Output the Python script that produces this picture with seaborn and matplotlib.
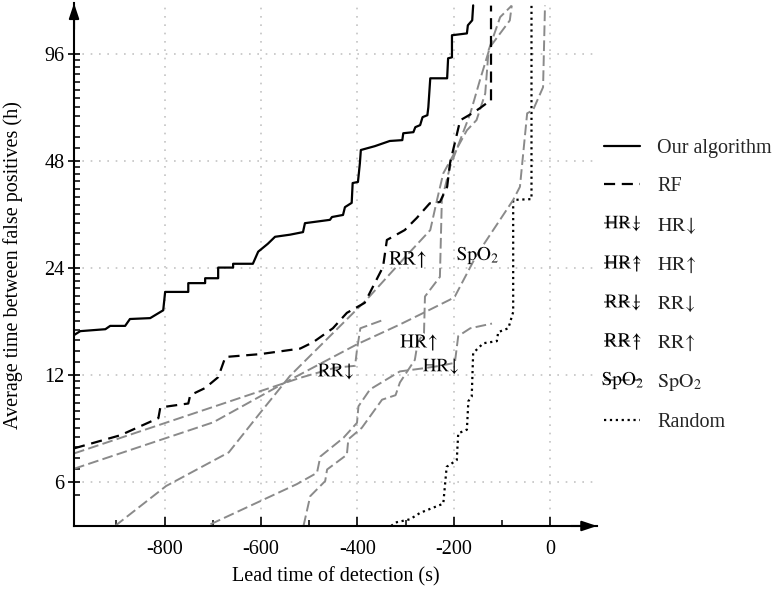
import matplotlib
matplotlib.use("Agg")
import matplotlib.pyplot as plt
import seaborn as sns
import numpy as np
from matplotlib.ticker import FixedLocator, FixedFormatter, NullFormatter, MultipleLocator

# lead time of detection (s) vs average hours between false positives
our_x = [-988, -975, -923, -913, -882, -872, -830, -803, -799, -751, -751, -716, -716, -689, -689,
         -658, -658, -617, -606, -586, -571, -540, -513, -509, -457, -453, -430, -426, -412, -410,
         -399, -395, -393, -364, -333, -307, -305, -284, -280, -270, -265, -255, -253, -249, -214,
         -212, -204, -204, -173, -171, -162, -160]
our_y = [15.5, 15.9, 16.1, 16.45, 16.45, 17.2, 17.3, 18.2, 20.5, 20.5, 21.7, 21.7, 22.4, 22.4, 24.0,
         24.0, 24.6, 24.6, 26.6, 28.0, 29.3, 29.7, 30.2, 32.0, 32.7, 33.3, 33.75, 35.5, 36.5, 41.5,
         41.8, 47.2, 51.4, 52.7, 54.5, 54.8, 57.3, 57.7, 59.6, 60.4, 63.6, 64.4, 67.8, 81.8, 81.8,
         93.1, 93.7, 108.1, 109.4, 115.3, 119.1, 131.2]

rf_x = [-988, -892, -813, -809, -751, -747, -716, -689, -674, -602, -519, -492, -451, -422, -385,
        -347, -339, -302, -277, -250, -229, -214, -208, -187, -162, -146, -129, -123, -123]
rf_y = [7.44, 8.1, 9.05, 9.7, 9.95, 10.5, 11.0, 11.8, 13.45, 13.7, 14.2, 14.8, 16.2, 17.9, 19.1,
        24.1, 28.7, 30.6, 33.1, 36.4, 36.7, 40.5, 47.2, 62.3, 65.2, 67.4, 70.1, 70.5, 131]

hr_down_x = [-705, -526, -484, -477, -429, -401, -398, -374, -312, -263, -229, -198, -191, -166, -121]
hr_down_y = [4.55, 5.9, 6.35, 7.06, 7.97, 8.78, 9.77, 10.9, 12.25, 12.5, 12.7, 12.95, 15.4, 16.2, 16.7]

hr_up_x = [-512, -498, -467, -463, -422, -419, -391, -349, -321, -312, -281, -275, -262, -260, -229,
           -225, -208, -166, -146, -125, -84, -80]
hr_up_y = [4.5, 5.46, 6.02, 6.49, 7.14, 7.89, 8.5, 10.2, 10.5, 11.4, 13.2, 14.8, 15.7, 19.9, 22.6,
           37.2, 46.1, 65.1, 80.8, 100.2, 119, 131]

rr_down_x = [-988, -519, -446, -405, -401, -394, -349]
rr_down_y = [7.2, 11.75, 12.55, 12.7, 14.1, 16.2, 17.05]

rr_up_x = [-903, -797, -667, -602, -540, -381, -302, -249, -235, -222, -173, -153, -135, -128, -104, -80]
rr_up_y = [4.5, 5.83, 7.25, 9.36, 11.9, 19.5, 25.6, 30.6, 37.2, 44.2, 58.4, 62.4, 74.1, 98.1, 121.6, 131]

spo2_x = [-988, -699, -540, -401, -312, -263, -208, -198, -153, -77, -63, -48, -36, -15, -11]
spo2_y = [6.52, 8.81, 11.6, 14.6, 16.6, 17.9, 19.5, 19.9, 26.0, 37.2, 40.5, 65.2, 66.5, 77.2, 131]

random_x = [-330, -322, -291, -270, -222, -215, -194, -191, -173, -170, -163, -160, -139, -111, -108,
            -87, -77, -77, -39, -39]
random_y = [4.5, 4.6, 4.7, 4.9, 5.2, 6.6, 6.9, 8.2, 8.4, 10.1, 10.4, 13.8, 14.7, 14.9, 15.8,
            16.2, 18.0, 37.2, 37.4, 131]

# where each single-signal curve carries its text label
hr_down_label = (-229, 12.7)
hr_up_label = (-274, 14.8)
rr_down_label = (-446, 12.3)
rr_up_label = (-297, 25.4)
spo2_label = (-153, 26.0)

x_ticks = [-800, -600, -400, -200, 0]
y_ticks = [6, 12, 24, 48, 96]
y_tick_labels = ['6', '12', '24', '48', '96']

sns.set_theme(style="white")
plt.rcParams['font.family'] = ['Liberation Serif', 'DejaVu Serif']
plt.rcParams['mathtext.fontset'] = 'stix'
plt.rcParams['axes.unicode_minus'] = False
fs = 14.5

fig = plt.figure(figsize=(7.76, 5.92), dpi=100)
ax = fig.add_axes([0.0954, 0.1115, 0.674, 0.883])

grey = '#8a8a8a'
grey_ls = (0, (5.5, 2.2))

def curve(x, y, **kw):
    sns.lineplot(x=x, y=y, sort=False, estimator=None, ax=ax, **kw)
    return ax.lines[-1]

def tag(pos, text, size):
    return ax.plot([pos[0]], [pos[1]], ls='none', marker=text, ms=size,
                   mfc='black', mec='black', mew=0, zorder=6)[0]

rand_line = curve(random_x, random_y, color='black', lw=1.6, linestyle=':')
hrd_line = curve(hr_down_x, hr_down_y, color=grey, lw=1.4, linestyle=grey_ls)
hru_line = curve(hr_up_x, hr_up_y, color=grey, lw=1.4, linestyle=grey_ls)
rrd_line = curve(rr_down_x, rr_down_y, color=grey, lw=1.4, linestyle=grey_ls)
rru_line = curve(rr_up_x, rr_up_y, color=grey, lw=1.4, linestyle=grey_ls)
spo_line = curve(spo2_x, spo2_y, color=grey, lw=1.4, linestyle=grey_ls)
rf_line = curve(rf_x, rf_y, color='black', lw=1.6, linestyle=(0, (5, 3)))
our_line = curve(our_x, our_y, color='black', lw=1.6)

hrd_tag = tag(hr_down_label, r'$\mathrm{HR}\!\downarrow$', 25)
hru_tag = tag(hr_up_label, r'$\mathrm{HR}\!\uparrow$', 26)
rrd_tag = tag(rr_down_label, r'$\mathrm{RR}\!\downarrow$', 25)
rru_tag = tag(rr_up_label, r'$\mathrm{RR}\!\uparrow$', 26)
spo_tag = tag(spo2_label, r'$\mathrm{SpO}_2$', 29)

ax.set_yscale('log')
ax.set_xlim(-988, 97)
ax.set_ylim(4.5, 133)
ax.xaxis.set_major_locator(FixedLocator(x_ticks))
ax.xaxis.set_minor_locator(MultipleLocator(100))
ax.yaxis.set_major_locator(FixedLocator(y_ticks))
ax.yaxis.set_major_formatter(FixedFormatter(y_tick_labels))
y_minor = np.concatenate([[5.5], 6 + 0.5 * np.arange(1, 12), 12 + np.arange(1, 12),
                          24 + 2 * np.arange(1, 12), 48 + 4 * np.arange(1, 12)])
ax.yaxis.set_minor_locator(FixedLocator(y_minor))
ax.yaxis.set_minor_formatter(NullFormatter())

ax.grid(True, which='major', color='#c4c4c4', lw=1.2, linestyle=(0, (1, 4)))
ax.grid(False, which='minor')
ax.xaxis.set_tick_params(which='major', direction='in', length=6.5, width=1.2, pad=10,
                         labelsize=fs, colors='black', bottom=True)
ax.xaxis.set_tick_params(which='minor', direction='in', length=4, width=1.1,
                         color='black', bottom=True)
ax.yaxis.set_tick_params(which='major', direction='inout', length=8, width=1.2, pad=3,
                         labelsize=fs, colors='black', left=True)
ax.yaxis.set_tick_params(which='minor', direction='in', length=4, width=1.1,
                         color='black', left=True)

for s in ['top', 'right']:
    ax.spines[s].set_visible(False)
for s in ['left', 'bottom']:
    ax.spines[s].set_color('black')
    ax.spines[s].set_linewidth(1.5)

arrow = dict(arrowstyle='-|>,head_length=0.9,head_width=0.3', color='black', lw=1.5,
             shrinkA=0, shrinkB=0, mutation_scale=10)
ax.annotate('', xy=(1, 0), xytext=(0.95, 0), xycoords='axes fraction', arrowprops=arrow,
            annotation_clip=False)
ax.annotate('', xy=(0, 1), xytext=(0, 0.95), xycoords='axes fraction', arrowprops=arrow,
            annotation_clip=False)

ax.set_xlabel('Lead time of detection (s)', fontsize=fs, color='black')
ax.set_ylabel('Average time between false positives (h)', fontsize=fs, color='black')
ax.xaxis.set_label_coords(0.5, -0.078)
ax.yaxis.set_label_coords(-0.097, 0.5)

handles = [our_line, rf_line, (hrd_line, hrd_tag), (hru_line, hru_tag), (rrd_line, rrd_tag),
           (rru_line, rru_tag), (spo_line, spo_tag), rand_line]
labels = ['Our algorithm', 'RF', r'$\mathrm{HR}\!\downarrow$', r'$\mathrm{HR}\!\uparrow$',
          r'$\mathrm{RR}\!\downarrow$', r'$\mathrm{RR}\!\uparrow$', r'$\mathrm{SpO}_2$', 'Random']
fig.legend(handles, labels, loc='center left', bbox_to_anchor=(0.768, 0.518), frameon=False,
           handlelength=1.8, handletextpad=0.85, labelspacing=0.945, borderpad=0.4,
           borderaxespad=0, fontsize=fs)

fig.savefig('out.png', dpi=100)
